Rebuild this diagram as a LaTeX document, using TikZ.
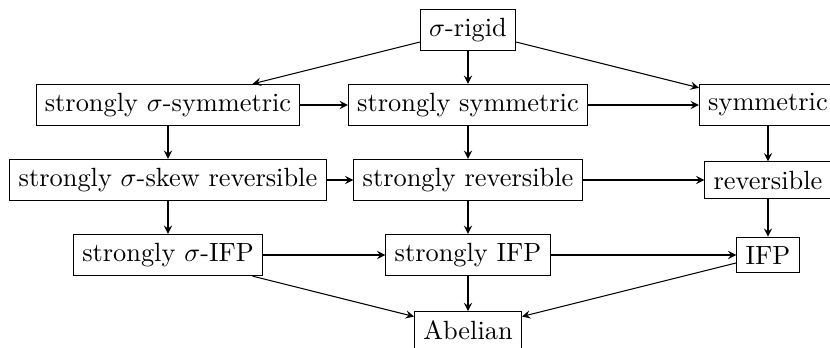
\documentclass[tikz,border=0pt]{standalone}
\begin{document}
\begin{tikzpicture}[>=stealth, prop/.style={draw}]
  \useasboundingbox (-2.24,-4.24) rectangle (8.827,0.4);
  \node[prop] (rig) at (4,0) {$\sigma$-rigid};
  \node[prop] (ssigsym) at (0,-1) {strongly $\sigma$-symmetric};
  \node[prop] (ssym) at (4,-1) {strongly symmetric};
  \node[prop] (sym) at (8,-1) {symmetric};
  \node[prop] (ssigrev) at (0,-2) {strongly $\sigma$-skew reversible};
  \node[prop] (srev) at (4,-2) {strongly reversible};
  \node[prop] (rev) at (8,-2) {reversible};
  \node[prop] (ssigifp) at (0,-3) {strongly $\sigma$-IFP};
  \node[prop] (sifp) at (4,-3) {strongly IFP};
  \node[prop] (ifp) at (8,-3) {IFP};
  \node[prop] (ab) at (4,-4) {Abelian};
  \draw[->] (rig) edge (ssigsym);
  \draw[->] (rig) edge (ssym);
  \draw[->] (rig) edge (sym);
  \draw[->] (ssigsym) edge (ssym);
  \draw[->] (ssym) edge (sym);
  \draw[->] (ssigsym) edge (ssigrev);
  \draw[->] (ssym) edge (srev);
  \draw[->] (sym) edge (rev);
  \draw[->] (ssigrev) edge (srev);
  \draw[->] (srev) edge (rev);
  \draw[->] (ssigrev) edge (ssigifp);
  \draw[->] (srev) edge (sifp);
  \draw[->] (rev) edge (ifp);
  \draw[->] (ssigifp) edge (sifp);
  \draw[->] (sifp) edge (ifp);
  \draw[->] (ssigifp) edge (ab);
  \draw[->] (sifp) edge (ab);
  \draw[->] (ifp) edge (ab);
\end{tikzpicture}
\end{document}
